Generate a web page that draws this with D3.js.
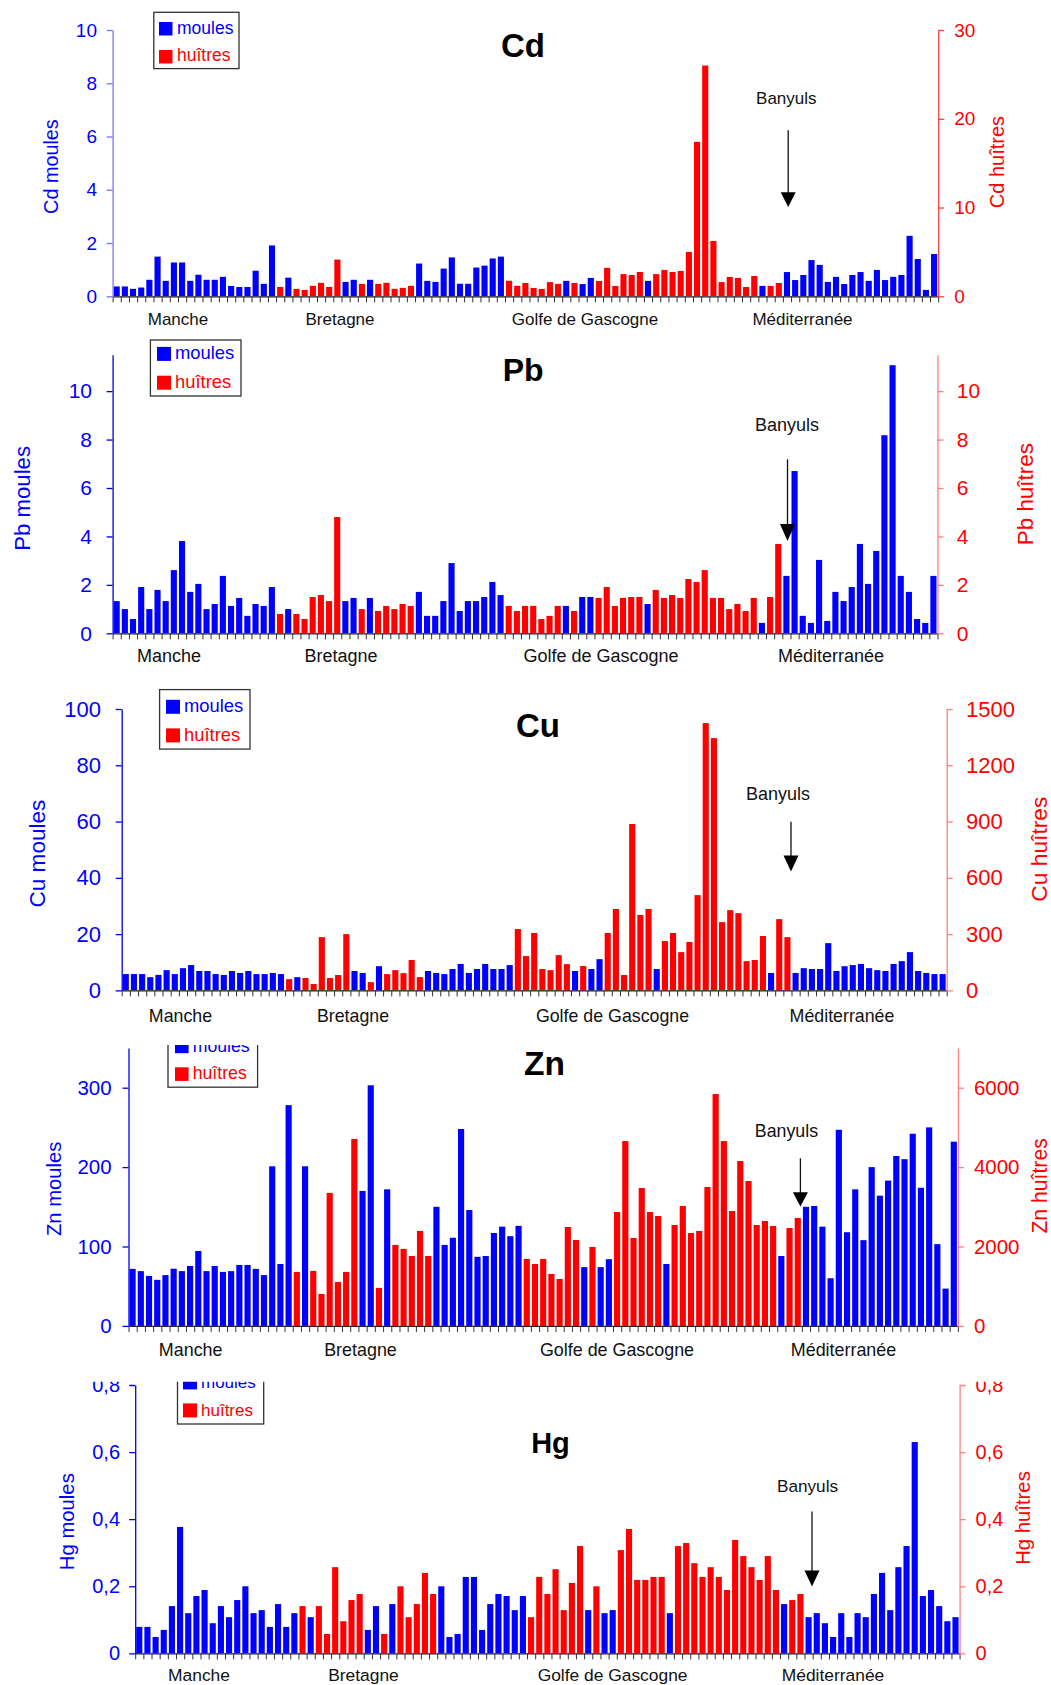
<!DOCTYPE html>
<html>
<head>
<meta charset="utf-8">
<script src="https://cdn.jsdelivr.net/npm/d3@7"></script>
<style>
  body { margin: 0; background: #fff; }
  svg { display: block; font-family: "Liberation Sans", Arial, sans-serif; }
</style>
</head>
<body>
<svg id="chart" width="1051" height="1685"></svg>
<script>
// species sampled at each site : m = moules (left axis), h = huîtres (right axis)
var species = ("mmmmmmmmmmmmmmmmmmmm" + "h" + "m" + "hhhhhh" + "mm" + "h" + "m" + "hhhhh" +
  "mmmmmmmmmmm" + "hhhhhhh" + "m" + "h" + "mm" + "hhhhhh" + "m" + "hhhhhhhhhhhhh" + "m" + "hh" +
  "mmmmmmmmmmmmmmmmmmm").split("");
var sites = species.map(function(d, i) { return i + 1; });
var regions = ["Manche", "Bretagne", "Golfe de Gascogne", "Méditerranée"];

var cdValues = [
  0.37, 0.37, 0.28, 0.33, 0.62, 1.49, 0.58, 1.27, 1.27, 0.58,
  0.81, 0.62, 0.62, 0.73, 0.39, 0.35, 0.35, 0.96, 0.47, 1.91,
  1.06, 0.70, 0.84, 0.72, 1.18, 1.52, 1.06, 4.14, 0.54, 0.62,
  1.40, 0.62, 1.40, 1.52, 0.84, 0.95, 1.18, 1.23, 0.58, 0.54,
  1.04, 1.46, 0.47, 0.47, 1.08, 1.15, 1.42, 1.49, 1.75, 1.18,
  1.50, 0.94, 0.83, 1.60, 1.40, 0.58, 1.50, 0.46, 0.69, 1.73,
  3.20, 1.17, 2.50, 2.40, 2.74, 0.58, 2.50, 2.97, 2.74, 2.86,
  5.00, 17.4, 26.0, 6.24, 1.60, 2.18, 2.07, 1.05, 2.29, 0.39,
  1.17, 1.50, 0.91, 0.61, 0.80, 1.36, 1.18, 0.54, 0.73, 0.46,
  0.80, 0.91, 0.58, 0.99, 0.61, 0.73, 0.80, 2.27, 1.40, 0.24,
  1.59];
var pbValues = [
  1.33, 1.00, 0.59, 1.91, 1.00, 1.79, 1.33, 2.61, 3.81, 1.71,
  2.04, 1.00, 1.21, 2.37, 1.13, 1.46, 0.72, 1.21, 1.13, 1.91,
  0.80, 1.00, 0.80, 0.59, 1.50, 1.58, 1.33, 4.80, 1.33, 1.46,
  1.00, 1.46, 0.92, 1.13, 1.00, 1.21, 1.13, 1.71, 0.72, 0.72,
  1.33, 2.90, 0.92, 1.33, 1.33, 1.50, 2.12, 1.58, 1.13, 0.92,
  1.13, 1.13, 0.59, 0.72, 1.13, 1.13, 0.92, 1.50, 1.50, 1.46,
  1.91, 1.13, 1.46, 1.50, 1.50, 1.21, 1.79, 1.46, 1.58, 1.46,
  2.24, 2.12, 2.61, 1.46, 1.46, 1.00, 1.21, 0.92, 1.46, 0.43,
  1.50, 3.69, 2.37, 6.70, 0.72, 0.43, 3.03, 0.51, 1.71, 1.33,
  1.91, 3.69, 2.04, 3.40, 8.18, 11.07, 2.37, 1.71, 0.59, 0.43,
  2.37];
var cuValues = [
  5.8, 5.8, 5.8, 4.7, 5.5, 7.2, 5.8, 7.9, 9.0, 6.9,
  6.9, 5.8, 5.5, 6.9, 6.2, 6.9, 5.8, 5.8, 6.2, 5.8,
  60, 4.7, 66, 34, 284, 66, 82, 300, 6.9, 6.2,
  44, 8.6, 87, 108, 92, 162, 71, 6.9, 6.2, 5.8,
  7.6, 9.4, 6.2, 7.6, 9.4, 7.6, 7.6, 9.0, 327, 183,
  306, 114, 108, 188, 140, 6.9, 130, 7.6, 11.1, 306,
  434, 82, 887, 402, 434, 7.6, 263, 306, 204, 258,
  508, 1425, 1345, 364, 428, 412, 156, 162, 290, 6.2,
  380, 284, 6.2, 7.9, 7.6, 7.6, 16.8, 6.9, 8.6, 9.0,
  9.4, 7.9, 7.2, 6.9, 9.4, 10.4, 13.6, 6.9, 6.2, 5.8,
  5.8];
var znValues = [
  71.8, 69, 63, 58, 64, 72, 69, 75.5, 94.4, 69,
  75.5, 68, 69, 76.8, 76.8, 71.8, 64, 201, 78, 278,
  1360, 201, 1385, 805, 3350, 1108, 1360, 4710, 170, 303,
  957, 172, 2040, 1940, 1762, 2392, 1762, 150, 102, 111,
  248, 146, 87, 88, 117, 125, 113, 126, 1687, 1560,
  1687, 1309, 1183, 2492, 2164, 74, 1988, 74, 84, 2869,
  4656, 2215, 3474, 2869, 2768, 78, 2542, 3020, 2340, 2391,
  3499, 5840, 4656, 2894, 4153, 3650, 2542, 2643, 2517, 88,
  2467, 2718, 150, 151, 125, 60, 247, 118, 172, 108,
  200, 164, 183, 214, 210, 242, 174, 250, 103, 47,
  232];
var hgValues = [
  0.079, 0.079, 0.049, 0.070, 0.141, 0.377, 0.120, 0.171, 0.189, 0.090,
  0.141, 0.108, 0.159, 0.200, 0.120, 0.129, 0.079, 0.147, 0.079, 0.120,
  0.141, 0.108, 0.141, 0.058, 0.257, 0.096, 0.159, 0.177, 0.070, 0.141,
  0.058, 0.147, 0.200, 0.108, 0.147, 0.240, 0.177, 0.200, 0.049, 0.058,
  0.228, 0.228, 0.070, 0.147, 0.177, 0.171, 0.129, 0.171, 0.108, 0.228,
  0.177, 0.251, 0.129, 0.210, 0.320, 0.129, 0.200, 0.120, 0.129, 0.308,
  0.371, 0.219, 0.219, 0.228, 0.228, 0.120, 0.320, 0.329, 0.269, 0.228,
  0.257, 0.228, 0.189, 0.338, 0.290, 0.257, 0.219, 0.290, 0.189, 0.147,
  0.159, 0.177, 0.108, 0.120, 0.090, 0.049, 0.120, 0.049, 0.120, 0.108,
  0.177, 0.240, 0.129, 0.257, 0.320, 0.630, 0.171, 0.189, 0.141, 0.096,
  0.108];

var cdTicksL = [0, 2, 4, 6, 8, 10], cdTicksR = [0, 10, 20, 30];
var pbTicks = [0, 2, 4, 6, 8, 10];
var cuTicksL = [0, 20, 40, 60, 80, 100], cuTicksR = [0, 300, 600, 900, 1200, 1500];
var znTicksL = [0, 100, 200, 300], znTicksR = [0, 2000, 4000, 6000];
var hgTicks = [0, 0.2, 0.4, 0.6, 0.8];

var commaFmt = d3.formatLocale({decimal: ",", thousands: " ", grouping: [3], currency: ["", " €"]}).format(".1f");
function hgFmt(d) { return d === 0 ? "0" : commaFmt(d); }

var panels = [
  { metal: "Cd", values: cdValues, domL: [0, 10], domR: [0, 30], ticksL: cdTicksL, ticksR: cdTicksR,
    x0: 112.6, x1: 938.2, y0: 296.3, yTop: 30, clipTop: null,
    tickSize: 19, padL: 9.6, padR: 10, colL: "#7676ff", colR: "#ff4040",
    titleL: [58, 166.6, 19.8], titleR: [1004, 162.1, 20], title: [523, 57.2, 33],
    legend: { x: 153.8, y: 12.3, w: 85.2, h: 56.3, sqX: 159, sqY: [22, 50], sq: 13.5, tx: 177, base: [33.5, 61.1], size: 17.5 },
    ban: { x: 786.3, y: 103.5, size: 17, ax: 788.2, a1: 130.2, a2: 192.3, a3: 207 },
    regionX: [178, 340, 585, 802.5], regionY: 325, regionSize: 17 },
  { metal: "Pb", values: pbValues, domL: [0, 11.5], domR: [0, 11.5], ticksL: pbTicks, ticksR: pbTicks,
    x0: 112.6, x1: 937.5, y0: 633.3, yTop: 354.8, clipTop: null,
    tickSize: 21, padL: 14.6, padR: 13.3, colL: "#0000dd", colR: "#ff8080",
    titleL: [30.4, 498.4, 22.2], titleR: [1033, 494.2, 22.4], title: [523.2, 381.4, 32],
    legend: { x: 150.4, y: 340, w: 90.6, h: 56, sqX: 157, sqY: [346.9, 375.7], sq: 14, tx: 175, base: [359.3, 388.3], size: 18.4 },
    ban: { x: 787, y: 430.7, size: 18, ax: 787.5, a1: 459.3, a2: 524, a3: 541.1 },
    regionX: [169, 341, 601, 831], regionY: 662.4, regionSize: 18 },
  { metal: "Cu", values: cuValues, domL: [0, 100], domR: [0, 1500], ticksL: cuTicksL, ticksR: cuTicksR,
    x0: 121.7, x1: 946.7, y0: 990.4, yTop: 709, clipTop: null,
    tickSize: 22, padL: 14.7, padR: 13.3, colL: "#0000ee", colR: "#ff8080",
    titleL: [45, 853.6, 22.6], titleR: [1046.5, 849.2, 22.8], title: [538, 736.7, 33],
    legend: { x: 159.6, y: 689.6, w: 90.4, h: 59.5, sqX: 166, sqY: [699.8, 728.4], sq: 14, tx: 184, base: [711.6, 740.7], size: 18.4 },
    ban: { x: 778, y: 800, size: 18, ax: 791, a1: 821.7, a2: 855.6, a3: 871.4 },
    regionX: [180.5, 353, 612.5, 842], regionY: 1022.2, regionSize: 17.8 },
  { metal: "Zn", values: znValues, domL: [0, 350], domR: [0, 7000], ticksL: znTicksL, ticksR: znTicksR,
    x0: 128.5, x1: 957.9, y0: 1325.9, yTop: 1048, clipTop: 1045,
    tickSize: 20.5, padL: 10.9, padR: 10, colL: "#0000ee", colR: "#ff8080",
    titleL: [61, 1188.9, 20.2], titleR: [1047, 1185.9, 21.2], title: [544.5, 1075, 33.5],
    legend: { x: 168, y: 1029, w: 89.6, h: 58.2, sqX: 175, sqY: [1039.6, 1067.3], sq: 13.6, tx: 192.7, base: [1051.8, 1079.4], size: 17.7 },
    ban: { x: 786.4, y: 1137.3, size: 17.8, ax: 800.4, a1: 1158.3, a2: 1192.3, a3: 1206.6 },
    regionX: [190.7, 360.5, 617, 843.5], regionY: 1356, regionSize: 17.9 },
  { metal: "Hg", values: hgValues, domL: [0, 0.8], domR: [0, 0.8], ticksL: hgTicks, ticksR: hgTicks, fmt: hgFmt,
    x0: 135.2, x1: 959.6, y0: 1653.4, yTop: 1385, clipTop: 1381.8,
    tickSize: 20, padL: 9.2, padR: 10, colL: "#0000ee", colR: "#ff8080",
    titleL: [73.7, 1521.7, 20.3], titleR: [1030.4, 1518, 20.3], title: [550.5, 1452.6, 29],
    legend: { x: 177.5, y: 1366, w: 86.2, h: 58, sqX: 183, sqY: [1375.4, 1403.4], sq: 14, tx: 201, base: [1388.3, 1415.8], size: 17 },
    ban: { x: 807.5, y: 1492.3, size: 17.2, ax: 812, a1: 1511.6, a2: 1570.6, a3: 1586.6 },
    regionX: [199, 363.5, 612.6, 833], regionY: 1681, regionSize: 17.4 }
];

var svg = d3.select("#chart");
var defs = svg.append("defs");

panels.forEach(drawPanel);

function drawPanel(p, k) {
  var g = svg.append("g");
  if (p.clipTop !== null) {
    defs.append("clipPath").attr("id", "clip" + k)
      .append("rect").attr("x", 0).attr("y", p.clipTop).attr("width", 1051).attr("height", 1685 - p.clipTop);
    g.attr("clip-path", "url(#clip" + k + ")");
  }

  var x = d3.scaleBand().domain(sites).range([p.x0, p.x1]).paddingInner(0.25).paddingOuter(0.125);
  var edge = d3.scaleLinear().domain([0, sites.length]).range([p.x0, p.x1]);
  var yL = d3.scaleLinear().domain(p.domL).range([p.y0, p.yTop]);
  var yR = d3.scaleLinear().domain(p.domR).range([p.y0, p.yTop]);

  var rows = sites.map(function(s, i) { return { site: s, sp: species[i], v: p.values[i] }; });
  function yOf(d) { return d.sp === "m" ? yL(d.v) : yR(d.v); }

  g.selectAll("rect.bar").data(rows).enter().append("rect")
    .attr("class", "bar")
    .attr("x", function(d) { return x(d.site); })
    .attr("width", x.bandwidth())
    .attr("y", yOf)
    .attr("height", function(d) { return p.y0 - yOf(d); })
    .attr("fill", function(d) { return d.sp === "m" ? "#0000ff" : "#ff0000"; });

  // x axis : one tick between each pair of sites
  var xa = g.append("g").attr("transform", "translate(0," + p.y0 + ")")
    .call(d3.axisBottom(edge).tickValues(d3.range(0, sites.length + 1)).tickSize(6).tickSizeOuter(0).tickFormat(""));
  xa.select(".domain").attr("stroke", "#222").attr("stroke-width", 1.2);
  xa.selectAll(".tick line").attr("stroke", "#333");

  var fmt = p.fmt || d3.format("d");
  var la = g.append("g").attr("transform", "translate(" + p.x0 + ",0)")
    .call(d3.axisLeft(yL).tickValues(p.ticksL).tickSize(6).tickSizeOuter(0).tickPadding(p.padL).tickFormat(fmt));
  la.select(".domain").attr("stroke", p.colL).attr("stroke-width", 1.3);
  la.selectAll(".tick line").attr("stroke", p.colL).attr("stroke-width", 1.3);
  la.selectAll("text").attr("fill", "#0000ff").attr("font-size", p.tickSize)
    .attr("font-family", "Liberation Sans, Arial, sans-serif");

  var ra = g.append("g").attr("transform", "translate(" + p.x1 + ",0)")
    .call(d3.axisRight(yR).tickValues(p.ticksR).tickSize(6).tickSizeOuter(0).tickPadding(p.padR).tickFormat(fmt));
  ra.select(".domain").attr("stroke", p.colR).attr("stroke-width", 1.3);
  ra.selectAll(".tick line").attr("stroke", p.colR).attr("stroke-width", 1.3);
  ra.selectAll("text").attr("fill", "#ff0000").attr("font-size", p.tickSize)
    .attr("font-family", "Liberation Sans, Arial, sans-serif");

  // axis titles
  g.append("text")
    .attr("transform", "translate(" + p.titleL[0] + "," + p.titleL[1] + ") rotate(-90)")
    .attr("text-anchor", "middle").attr("font-size", p.titleL[2]).attr("fill", "#0000ff")
    .text(p.metal + " moules");
  g.append("text")
    .attr("transform", "translate(" + p.titleR[0] + "," + p.titleR[1] + ") rotate(-90)")
    .attr("text-anchor", "middle").attr("font-size", p.titleR[2]).attr("fill", "#ff0000")
    .text(p.metal + " huîtres");

  g.append("text")
    .attr("x", p.title[0]).attr("y", p.title[1])
    .attr("text-anchor", "middle").attr("font-size", p.title[2]).attr("font-weight", "bold")
    .text(p.metal);

  // legend
  var lg = p.legend;
  g.append("rect").attr("x", lg.x).attr("y", lg.y).attr("width", lg.w).attr("height", lg.h)
    .attr("fill", "#fff").attr("stroke", "#333").attr("stroke-width", 1.3);
  [["moules", "#0000ff"], ["huîtres", "#ff0000"]].forEach(function(e, i) {
    g.append("rect").attr("x", lg.sqX).attr("y", lg.sqY[i]).attr("width", lg.sq).attr("height", lg.sq).attr("fill", e[1]);
    g.append("text").attr("x", lg.tx).attr("y", lg.base[i]).attr("font-size", lg.size).attr("fill", e[1]).text(e[0]);
  });

  // Banyuls arrow
  var b = p.ban;
  g.append("text").attr("x", b.x).attr("y", b.y).attr("text-anchor", "middle")
    .attr("font-size", b.size).attr("fill", "#111").text("Banyuls");
  g.append("line").attr("x1", b.ax).attr("x2", b.ax).attr("y1", b.a1).attr("y2", b.a2 + 2)
    .attr("stroke", "#111").attr("stroke-width", 1.3);
  g.append("path")
    .attr("d", "M" + (b.ax - 7.5) + "," + b.a2 + "L" + (b.ax + 7.5) + "," + b.a2 + "L" + b.ax + "," + b.a3 + "Z")
    .attr("fill", "#000");

  // region names under the axis
  g.selectAll("text.region").data(regions).enter().append("text")
    .attr("class", "region")
    .attr("x", function(d, i) { return p.regionX[i]; })
    .attr("y", p.regionY)
    .attr("text-anchor", "middle").attr("font-size", p.regionSize).attr("fill", "#111")
    .text(function(d) { return d; });
}
</script>
</body>
</html>
